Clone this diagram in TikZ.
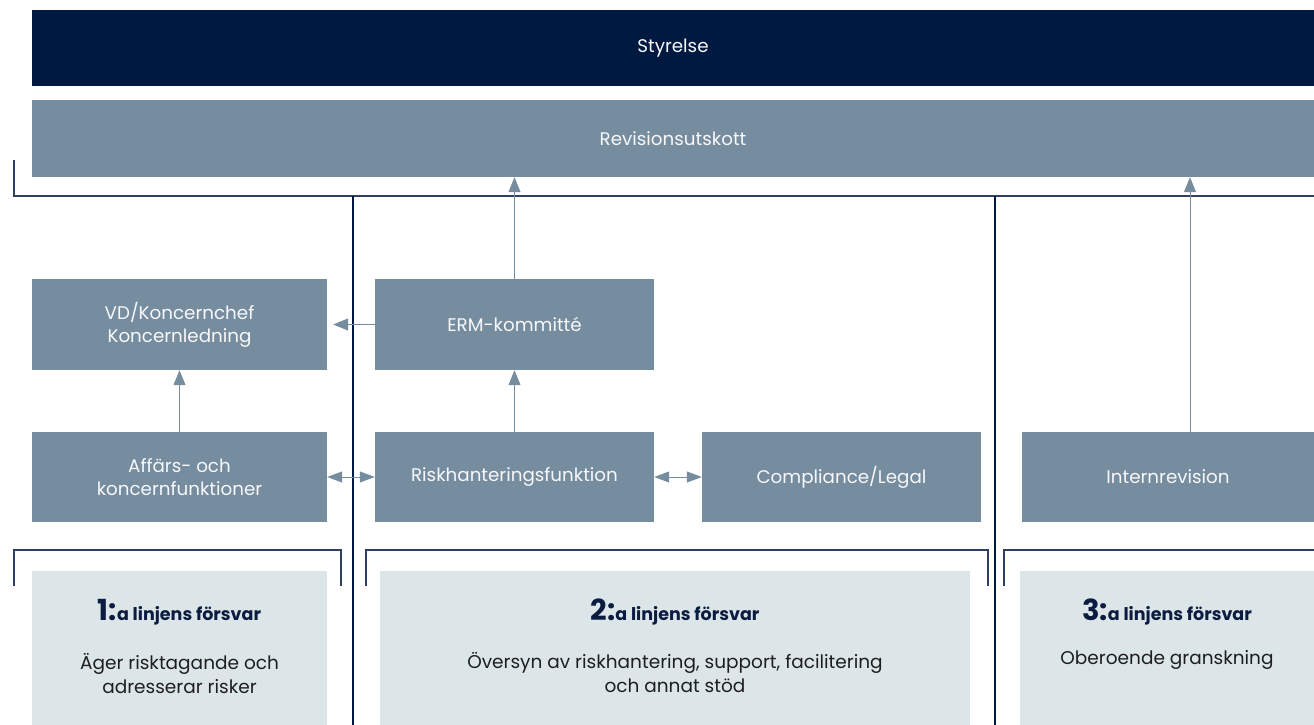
\documentclass[tikz,border=0pt]{standalone}
\usepackage{fontspec}
\setmainfont{Poppins}
\usetikzlibrary{arrows.meta}
\definecolor{navy}{HTML}{001940}
\definecolor{slate}{HTML}{768C9F}
\definecolor{pale}{HTML}{DCE6E9}
\definecolor{linec}{HTML}{2E3F60}
\definecolor{headc}{HTML}{0B1C40}
\definecolor{bodyc}{HTML}{1E1E1E}
\tikzset{
  x=1pt, y=-1pt,
  box/.style={fill=slate, text=white!94!slate, inner sep=0pt, align=center,
    font=\fontsize{18.3}{23}\selectfont},
  topbox/.style={box, fill=navy},
  palebox/.style={fill=pale, inner sep=0pt, align=center, text=bodyc,
    font=\fontsize{18.5}{24}\selectfont},
  arr/.style={draw=slate, line width=1pt, -{Triangle[length=15pt,width=12pt]}},
  darr/.style={draw=slate, line width=1pt, {Triangle[length=15pt,width=11pt]}-{Triangle[length=15pt,width=11pt]}},
  frame/.style={draw=linec, line width=1.5pt},
  divider/.style={draw=navy, line width=1.5pt},
}
\newcommand{\headline}[1]{{\color{headc}{\fontsize{29}{29}\selectfont\bfseries #1:}{\fontsize{17.5}{18}\selectfont\bfseries a linjens försvar}}}
\begin{document}
\begin{tikzpicture}
\useasboundingbox (0,0) rectangle (1314,725);
% top boxes
\node[topbox, minimum width=1282pt, minimum height=76pt] (sty) at (673,48) {Styrelse};
\node[box, minimum width=1282pt, minimum height=77pt] (rev) at (673,138.5) {Revisionsutskott};
% middle boxes
\node[box, minimum width=295pt, minimum height=91pt] (vd) at (179.5,324.5) {VD/Koncernchef\\Koncernledning};
\node[box, minimum width=279pt, minimum height=91pt] (erm) at (514.5,324.5) {ERM-kommitté};
\node[box, minimum width=295pt, minimum height=90pt] (aff) at (179.5,477) {Affärs- och\\koncernfunktioner};
\node[box, minimum width=279pt, minimum height=90pt] (risk) at (514.5,477) {Riskhanteringsfunktion};
\node[box, minimum width=279pt, minimum height=90pt] (comp) at (841.5,477) {Compliance/Legal};
\node[box, minimum width=292pt, minimum height=90pt] (intern) at (1168,477) {Internrevision};
% pale boxes
\node[palebox, minimum width=295pt, minimum height=154pt] (l1) at (179.5,648) {};
\node[palebox, minimum width=590pt, minimum height=154pt] (l2) at (675,648) {};
\node[palebox, minimum width=294pt, minimum height=154pt] (l3) at (1167,648) {};
\node[palebox, anchor=base] (h1) at (179.5,620) {\headline{1}};
\node[palebox, anchor=base] (h2) at (675,620) {\headline{2}};
\node[palebox, anchor=base] (h3) at (1167,620) {\headline{3}};
\node[palebox] (t1) at (179.5,674) {Äger risktagande och\\adresserar risker};
\node[palebox] (t2) at (675,673) {Översyn av riskhantering, support, facilitering\\och annat stöd};
\node[palebox] (t3) at (1167,660) {Oberoende granskning};
% frames
\coordinate (fa) at (14,160);
\coordinate (fb) at (14,196);
\coordinate (fc) at (1314,196);
\draw[frame] (fa) -- (fb) -- (fc);
\coordinate (d1t) at (353,196);
\coordinate (d1b) at (353,725);
\coordinate (d2t) at (995,196);
\coordinate (d2b) at (995,725);
\draw[divider] (d1t) -- (d1b);
\draw[divider] (d2t) -- (d2b);
\coordinate (b1a) at (14,586);
\coordinate (b1b) at (14,550);
\coordinate (b1c) at (341,550);
\coordinate (b1d) at (341,586);
\draw[frame] (b1a) -- (b1b) -- (b1c) -- (b1d);
\coordinate (b2a) at (366,586);
\coordinate (b2b) at (366,550);
\coordinate (b2c) at (988,550);
\coordinate (b2d) at (988,586);
\draw[frame] (b2a) -- (b2b) -- (b2c) -- (b2d);
\coordinate (b3a) at (1004,586);
\coordinate (b3b) at (1004,550);
\coordinate (b3c) at (1314,550);
\draw[frame] (b3a) -- (b3b) -- (b3c);
% arrows
\draw[arr] (erm.north) -- (erm.north |- rev.south);
\draw[arr] ([xshift=22pt]intern.north) -- ([xshift=22pt]intern.north |- rev.south);
\draw[arr] (aff.north) -- (vd.south);
\draw[arr] (risk.north) -- (erm.south);
\draw[arr, shorten >=6pt] (erm.west) -- (vd.east);
\draw[darr] (aff.east) -- (risk.west);
\draw[darr] (risk.east) -- (comp.west);
\end{tikzpicture}
\end{document}
